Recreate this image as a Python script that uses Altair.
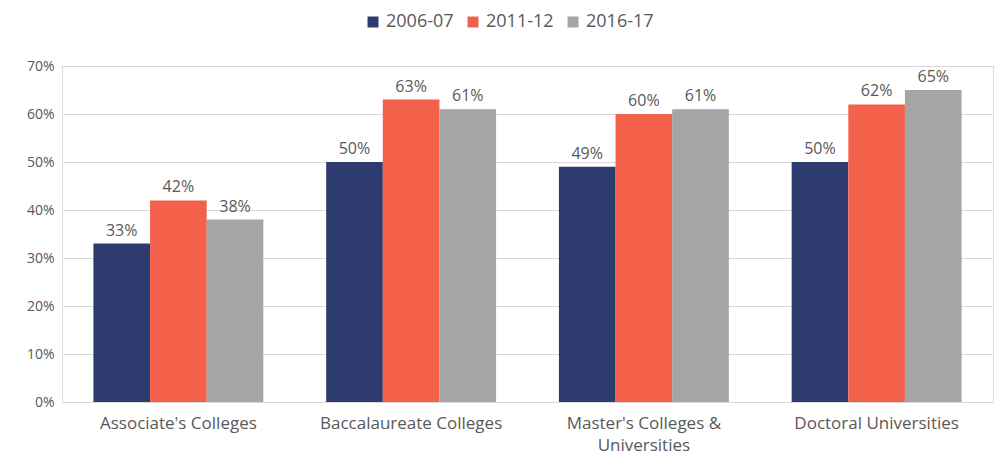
import altair as alt
import pandas as pd

categories = ["Associate's Colleges", "Baccalaureate Colleges",
              "Master's Colleges & Universities", "Doctoral Universities"]
years = ["2006-07", "2011-12", "2016-17"]
v2006 = [33, 50, 49, 50]
v2011 = [42, 63, 60, 62]
v2016 = [38, 61, 61, 65]
colors = ["#2E3B6E", "#F4614A", "#A5A5A5"]

rows = []
for i, c in enumerate(categories):
    for y, vals in zip(years, [v2006, v2011, v2016]):
        rows.append({"category": c, "year": y, "value": vals[i] / 100})
df = pd.DataFrame(rows)

FONT = "Open Sans"

base = alt.Chart(df).encode(
    x=alt.X("category:N", sort=categories, title=None,
            scale=alt.Scale(paddingInner=0.27, paddingOuter=0.135),
            axis=alt.Axis(labelAngle=0, labelFontSize=17, labelColor="#595959",
                          labelFont=FONT, ticks=False, domain=True,
                          domainColor="#D9D9D9", labelPadding=13, labelLimit=400,
                          labelExpr="split(replace(datum.label, '& ', '&|'), '|')",
                          labelLineHeight=22)),
    xOffset=alt.XOffset("year:N", sort=years),
)

bars = base.mark_bar().encode(
    y=alt.Y("value:Q", title=None,
            scale=alt.Scale(domain=[0, 0.7]),
            axis=alt.Axis(format=".0%", values=[0, .1, .2, .3, .4, .5, .6, .7],
                          labelFontSize=14, labelColor="#595959", labelFont=FONT,
                          ticks=False, domain=False, gridColor="#D9D9D9",
                          labelPadding=8)),
    color=alt.Color("year:N", sort=years,
                    scale=alt.Scale(domain=years, range=colors),
                    legend=alt.Legend(title=None, orient="none", direction="horizontal",
                                      legendX=302, legendY=-53, symbolType="square",
                                      symbolSize=120, labelFontSize=18, labelFont=FONT,
                                      labelColor="#595959", columnPadding=10,
                                      symbolStrokeWidth=0, labelOffset=4)),
)

labels = base.mark_text(dy=-13, fontSize=16, color="#595959", font=FONT).encode(
    y=alt.Y("value:Q"),
    text=alt.Text("value:Q", format=".0%"),
)

chart = (bars + labels).properties(
    width=931, height=336,
    autosize=alt.AutoSizeParams(type="none"),
    padding={"left": 62, "top": 66, "right": 2, "bottom": 54},
).configure_view(stroke=None).configure(background="white")

chart.save("out.html", embed_options={"renderer": "svg", "actions": False})
